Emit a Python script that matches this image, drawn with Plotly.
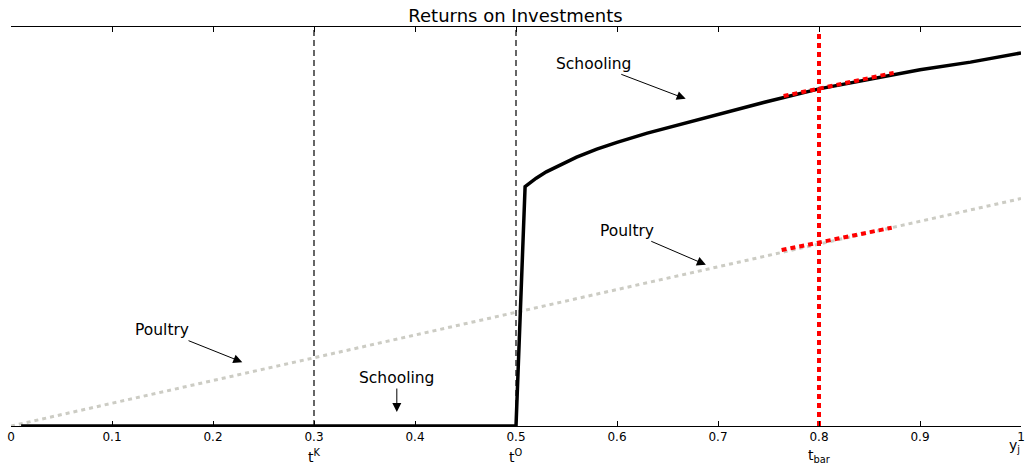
import plotly.graph_objects as go

# ---- data ----
tK = 0.3
tO = 0.5
tbar = 0.8

schooling_x = [0.01, 0.5, 0.509, 0.515, 0.52, 0.53, 0.54, 0.55, 0.56, 0.58, 0.6, 0.63, 0.66, 0.7, 0.75, 0.8, 0.85, 0.9, 0.95, 1.0]
schooling_y = [0.0, 0.0, 0.60, 0.613, 0.621, 0.637, 0.650, 0.663, 0.674, 0.694, 0.711, 0.734, 0.754, 0.779, 0.814, 0.845, 0.868, 0.893, 0.912, 0.935]

poultry_x = [0.0, 1.0]
poultry_y = [0.0, 0.57]

tangent_school_x = [0.765, 0.874]
tangent_school_y = [0.827, 0.885]
tangent_poultry_x = [0.763, 0.872]
tangent_poultry_y = [0.441, 0.497]

vline_y = [0.0, 1.0]
tbar_vline_y = [0.0, 0.99]

tick_vals = [0, 0.1, 0.2, 0.3, 0.4, 0.5, 0.6, 0.7, 0.8, 0.9, 1]
tick_text = ["0", "0.1", "0.2", "0.3", "0.4", "0.5", "0.6", "0.7", "0.8", "0.9", "1"]

FONT = "DejaVu Sans"

fig = go.Figure()

# dashed verticals
for xv in (tK, tO):
    fig.add_trace(go.Scatter(x=[xv, xv], y=vline_y, mode="lines",
                             line=dict(color="black", width=1.2, dash="6px,4px"),
                             showlegend=False, hoverinfo="skip"))

# poultry
fig.add_trace(go.Scatter(x=poultry_x, y=poultry_y, mode="lines",
                         line=dict(color="rgb(204,204,196)", width=3, dash="4px,4px"),
                         showlegend=False))

# schooling
fig.add_trace(go.Scatter(x=schooling_x, y=schooling_y, mode="lines",
                         line=dict(color="black", width=3.5),
                         showlegend=False))

# red tangents and vertical
red = dict(color="rgb(255,0,0)", width=4, dash="5px,4px")
fig.add_trace(go.Scatter(x=tangent_school_x, y=tangent_school_y, mode="lines", line=red, showlegend=False))
fig.add_trace(go.Scatter(x=tangent_poultry_x, y=tangent_poultry_y, mode="lines", line=red, showlegend=False))
fig.add_trace(go.Scatter(x=[tbar, tbar], y=tbar_vline_y, mode="lines", line=red, showlegend=False))

ann_font = dict(family=FONT, size=15.5, color="black")
arrow_common = dict(showarrow=True, arrowhead=2, arrowsize=1.8, arrowwidth=1,
                    arrowcolor="black", standoff=0, font=ann_font, xref="x", yref="y")
annotations = [
    dict(x=0.668, y=0.820, ax=-92, ay=-35, text="Schooling", **arrow_common),
    dict(x=0.688, y=0.404, ax=-79, ay=-34, text="Poultry", **arrow_common),
    dict(x=0.229, y=0.160, ax=-80, ay=-32, text="Poultry", **arrow_common),
    dict(x=0.382, y=0.035, ax=0, ay=-34, text="Schooling", **arrow_common),
]
lab_font = dict(family=FONT, size=14, color="black")
for xv, txt, ys, xs in [(tK, "t<sup>K</sup>", -30, 0), (tO, "t<sup>O</sup>", -30, 0),
                        (tbar, "t<sub>bar</sub>", -30, 0), (1.0, "y<sub>j</sub>", -20, -7)]:
    annotations.append(dict(x=xv, y=0, xref="x", yref="paper", yanchor="middle",
                            yshift=ys, xshift=xs,
                            showarrow=False, text=txt, font=lab_font))

fig.update_layout(
    width=1031, height=470,
    margin=dict(l=11, r=6, t=27, b=44),
    paper_bgcolor="white", plot_bgcolor="white",
    title=dict(text="Returns on Investments", x=0.5, xanchor="center",
               y=(470 - 16) / 470, yanchor="middle",
               font=dict(family=FONT, size=18, color="black")),
    xaxis=dict(range=[0, 1], tickvals=tick_vals, ticktext=tick_text,
               ticks="inside", ticklen=5, tickwidth=1, tickcolor="black",
               showline=True, linecolor="black", linewidth=1, mirror="ticks",
               showgrid=False, zeroline=False,
               tickfont=dict(family=FONT, size=12, color="black")),
    yaxis=dict(range=[0, 1], visible=False, showgrid=False, zeroline=False),
    annotations=annotations,
    showlegend=False,
)

fig.write_html("out.html", config={"displayModeBar": False},
               post_script="document.body.style.margin='0';document.body.style.overflow='hidden';")
